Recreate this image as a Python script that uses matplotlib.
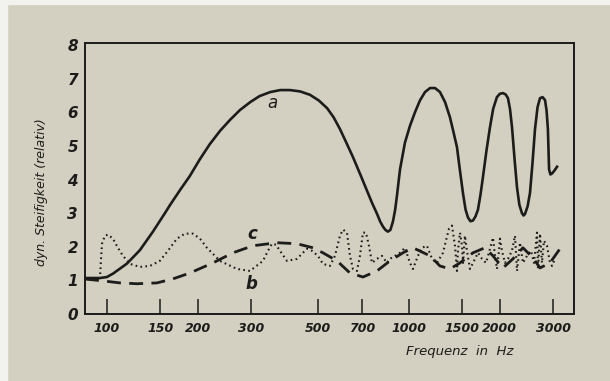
import matplotlib
matplotlib.use("Agg")
import matplotlib.pyplot as plt
from matplotlib.patches import Rectangle

# curve a (solid)
a_freq = [84.6, 94.8, 100, 104.7, 116.5, 128.6, 142, 155.6, 162, 175, 188, 203, 219, 237, 256,
          276, 298, 320, 347, 375, 404, 436, 470, 503, 536, 563, 591, 620, 653, 690, 726, 755,
          783, 803, 820, 836, 851, 868, 885, 900, 912, 934, 970, 1008, 1047, 1087, 1130, 1174,
          1220, 1267, 1317, 1367, 1405, 1442, 1476, 1510, 1540, 1568, 1598, 1629, 1660, 1692,
          1725, 1757, 1805, 1854, 1900, 1955, 2000, 2047, 2090, 2127, 2160, 2194, 2237, 2279,
          2320, 2366, 2395, 2421, 2470, 2516, 2565, 2614, 2665, 2716, 2770, 2822, 2855, 2884,
          2897, 2910, 2940, 2977, 3040, 3092]
a_val = [1.07, 1.07, 1.1, 1.2, 1.5, 1.9, 2.45, 3.0, 3.25, 3.7, 4.1, 4.6, 5.05, 5.45, 5.78,
         6.07, 6.3, 6.48, 6.6, 6.66, 6.66, 6.62, 6.52, 6.35, 6.12, 5.85, 5.5, 5.1, 4.66, 4.15,
         3.67, 3.3, 2.99, 2.75, 2.6, 2.5, 2.45, 2.5, 2.75, 3.1, 3.5, 4.3, 5.1, 5.6, 6.0, 6.35,
         6.6, 6.72, 6.72, 6.6, 6.3, 5.85, 5.4, 4.96, 4.25, 3.58, 3.1, 2.87, 2.76, 2.78, 2.9,
         3.1, 3.55, 4.06, 4.85, 5.55, 6.1, 6.45, 6.55, 6.57, 6.53, 6.42, 6.1, 5.55, 4.6, 3.76,
         3.25, 3.0, 2.93, 2.97, 3.2, 3.6, 4.5, 5.5, 6.15, 6.42, 6.45, 6.36, 6.05, 5.5, 4.9,
         4.3, 4.15, 4.18, 4.28, 4.38]

# curve b (dashed)
b_freq = [84.6, 97, 110.4, 125.7, 146.4, 165.4, 188.3, 224.4, 261.3, 304.4, 365.6, 425.6, 481,
          519, 577.7, 637.7, 704.2, 783.4, 865, 955, 1031, 1174, 1266, 1367, 1475, 1629, 1785,
          1897, 2047, 2209, 2384, 2574, 2716, 2930, 3162]
b_val = [1.04, 0.985, 0.925, 0.9, 0.925, 1.045, 1.22, 1.52, 1.82, 2.03, 2.12, 2.09, 1.97,
         1.82, 1.58, 1.22, 1.1, 1.28, 1.58, 1.82, 1.97, 1.73, 1.43, 1.34, 1.52, 1.82, 1.97,
         1.73, 1.37, 1.64, 1.97, 1.67, 1.37, 1.52, 1.94]

# curve c (dotted)
c_freq = [94.8, 95.5, 96.3, 98.5, 100.8, 104.7, 108.7, 113, 119.2, 128.6, 138.8, 149.7, 159.2,
          170.5, 181.3, 192.7, 203.3, 214.3, 236.6, 269.5, 297.5, 328.6, 341.3, 351.9, 362.8,
          374, 394.5, 425.7, 445.6, 459.5, 477.3, 499.5, 519, 547.5, 568.9, 591, 604.7, 623.4,
          637.8, 652.5, 672.7, 688.2, 704.2, 720.5, 737.1, 754.3, 783.4, 813.8, 845.4, 865,
          898.6, 933.7, 970, 1007.6, 1030.9, 1071, 1104, 1147, 1192, 1238, 1296, 1326, 1357,
          1388, 1420, 1442, 1453, 1476, 1498, 1510, 1532, 1556, 1592, 1642, 1692, 1745, 1799,
          1855, 1897, 1927, 1956, 1986, 2001, 2032, 2079, 2127, 2193, 2244, 2279, 2331, 2385,
          2459, 2535, 2594, 2654, 2675, 2716, 2757, 2799, 2864, 2931, 2976, 3045]
c_val = [1.04, 1.58, 2.09, 2.33, 2.36, 2.24, 1.97, 1.73, 1.49, 1.4, 1.43, 1.58, 1.88,
         2.24, 2.39, 2.39, 2.24, 1.97, 1.58, 1.34, 1.28, 1.58, 1.88, 2.09, 2.06,
         1.88, 1.58, 1.64, 1.82, 1.94, 1.88, 1.73, 1.49, 1.43, 1.73, 2.33, 2.51, 2.42,
         1.73, 1.34, 1.28, 1.73, 2.42, 2.42, 2.03, 1.52, 1.64, 1.73, 1.52, 1.64,
         1.73, 1.82, 1.97, 1.52, 1.34, 1.73, 1.97, 2.03, 1.64, 1.52, 1.82, 2.18, 2.54,
         2.63, 2.03, 1.28, 1.88, 2.42, 2.03, 1.52, 2.33, 1.88, 1.34, 1.58, 1.82, 1.64, 1.52,
         1.94, 2.27, 1.73, 1.34, 1.88, 2.24, 1.88, 1.52, 1.64, 1.88, 2.33, 1.28, 2.12, 1.52,
         1.73, 1.88, 1.52, 2.42, 1.34, 2.39, 1.52, 2.18, 2.03, 1.52, 1.43, 1.64]

x_ticks = [100, 150, 200, 300, 500, 700, 1000, 1500, 2000, 3000]
x_labels = [str(t) for t in x_ticks]
y_ticks = [0, 1, 2, 3, 4, 5, 6, 7, 8]

paper = '#d3d0c1'
ink = '#1c1c1a'

fig = plt.figure(figsize=(6.1, 3.81), dpi=100, facecolor=paper)
# scanner edge
fig.patches.append(Rectangle((0, 0), 7 / 610, 1, transform=fig.transFigure,
                             color='#f2f2ee', zorder=0))
fig.patches.append(Rectangle((0, 1 - 4 / 381), 1, 4 / 381, transform=fig.transFigure,
                             color='#f2f2ee', zorder=0))

ax = fig.add_axes([85 / 610, 67 / 381, 489 / 610, 271 / 381])
ax.set_facecolor(paper)

ax.plot(a_freq, a_val, color=ink, lw=1.9, solid_joinstyle='round')
ax.plot(b_freq, b_val, color=ink, lw=2.0, linestyle=(0, (5, 3)))
ax.plot(c_freq, c_val, color=ink, lw=1.5, linestyle=(0, (0.8, 1.6)))

ax.set_xscale('log')
ax.set_xlim(84.6, 3519)
ax.set_ylim(0, 8.06)
ax.set_xticks(x_ticks)
ax.set_xticklabels(x_labels)
ax.xaxis.set_minor_locator(matplotlib.ticker.NullLocator())
ax.set_yticks(y_ticks)

for sp in ax.spines.values():
    sp.set_linewidth(1.4)
    sp.set_color(ink)

ax.tick_params(axis='x', direction='in', length=11, width=1.1, pad=6, colors=ink,
               labelsize=9)
ax.tick_params(axis='y', length=0, pad=5, colors=ink, labelsize=11)
for lab in ax.get_xticklabels() + ax.get_yticklabels():
    lab.set_style('italic')
    lab.set_fontweight('bold')

# curve labels
ax.text(354, 6.27, 'a', fontsize=12, style='italic', color=ink, ha='center', va='center')
ax.text(304, 2.39, 'c', fontsize=12, style='italic', fontweight='bold', color=ink,
        ha='center', va='center')
ax.text(302, 0.88, 'b', fontsize=12, style='italic', fontweight='bold', color=ink,
        ha='center', va='center')

fig.text(42 / 610, 1 - 192 / 381, 'dyn. Steifigkeit (relativ)', rotation=90,
         fontsize=9, style='italic', color=ink, ha='center', va='center')
fig.text(460 / 610, 1 - 352 / 381, 'Frequenz  in  Hz', fontsize=9.5, style='italic',
         color=ink, ha='center', va='center')

fig.savefig('out.png', dpi=100, facecolor=paper)
